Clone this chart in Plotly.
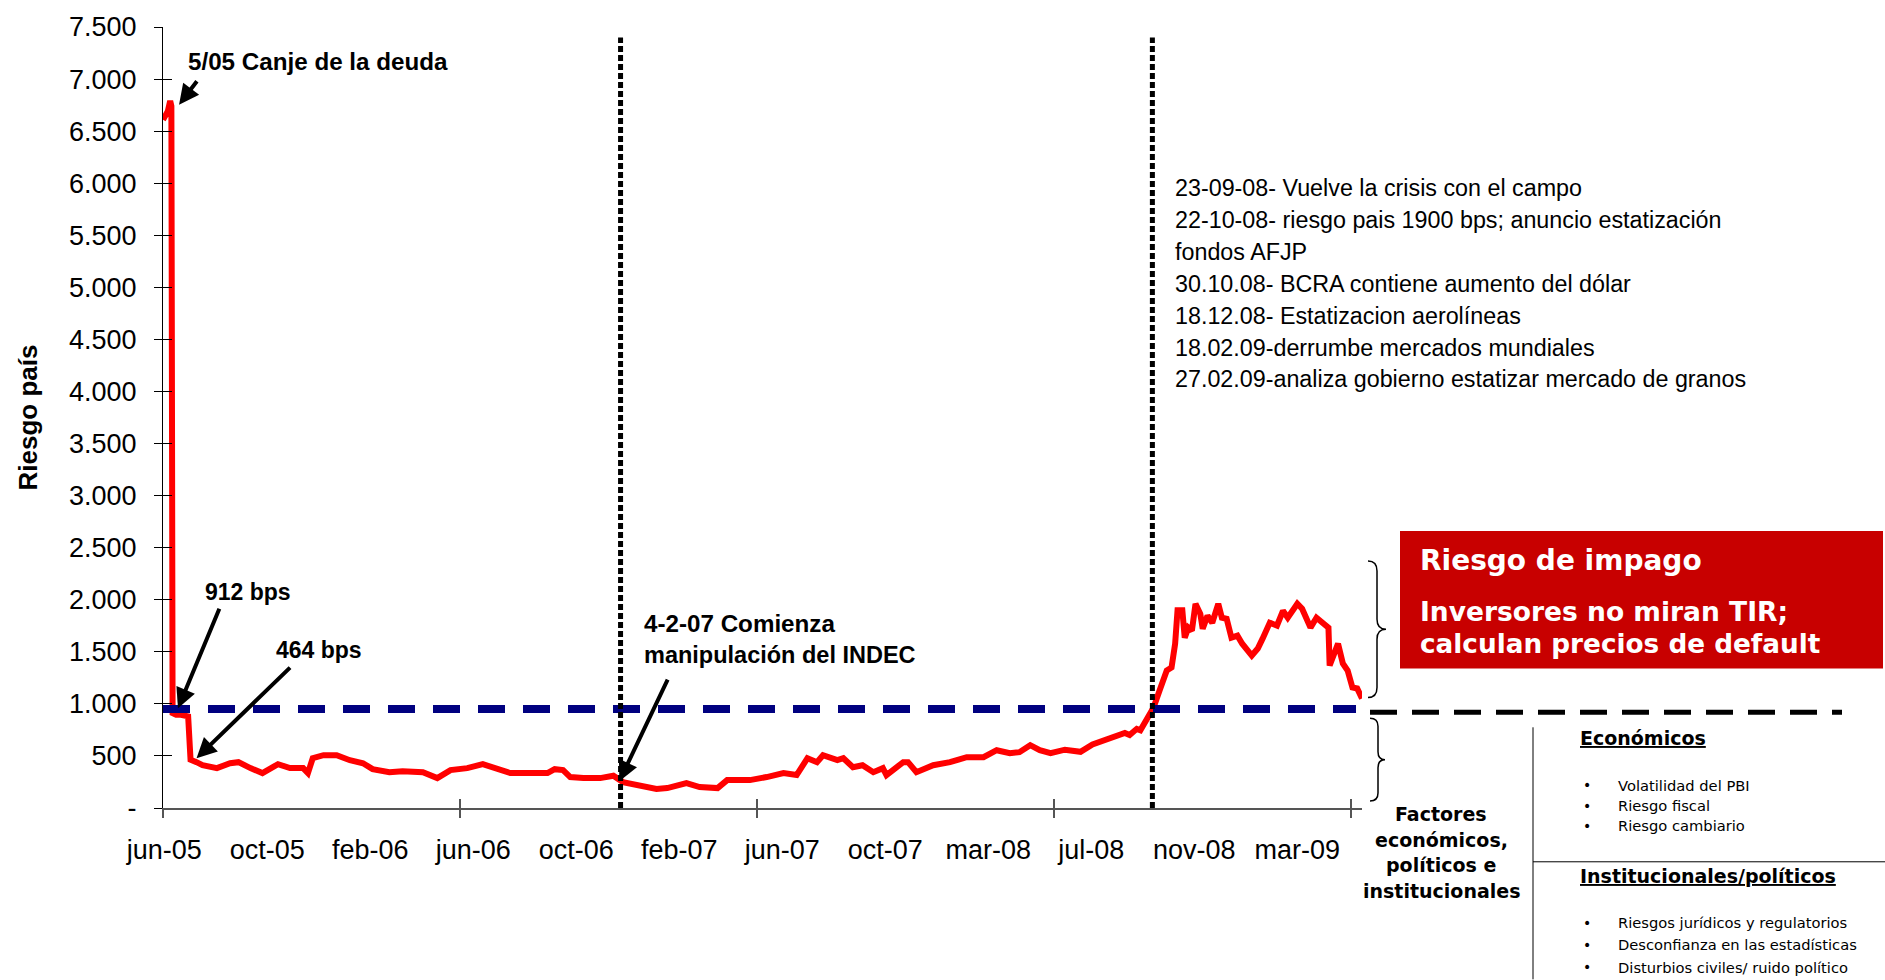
import plotly.graph_objects as go

# ---------------------------------------------------------------
# Riesgo país (puntos básicos), serie por día hábil desde jun-05
# ---------------------------------------------------------------
dia_canje = [0, 4, 6, 7, 8, 11, 15, 18, 21, 23, 25, 28]
rp_canje = [6610, 6690, 6790, 6740, 912, 895, 895, 880, 880, 464, 459, 440]

dia_2006 = [33, 45, 56, 63, 73, 83, 96, 106, 117, 121, 125, 134, 145, 156, 167,
            175, 189, 200, 217, 229, 240, 254, 267, 279, 290, 304]
rp_2006 = [411, 383, 430, 440, 383, 335, 421, 383, 383, 335, 478, 507, 507, 459, 430,
           373, 344, 354, 344, 287, 364, 383, 421, 383, 335, 335]

dia_indec = [321, 327, 334, 340, 346, 351, 365, 376, 384, 398, 412, 421, 437, 448, 463, 471]
rp_indec = [335, 373, 364, 297, 287, 287, 287, 310, 249, 220, 182, 191, 239, 201, 191, 268]

dia_2007 = [490, 504, 518, 529, 538, 546, 551, 563, 568, 576, 584, 593, 601, 604, 618,
            622, 629, 643, 657, 671, 685, 696, 707, 715, 724, 732, 741]
rp_2007 = [268, 297, 335, 316, 478, 440, 507, 459, 478, 392, 411, 344, 383, 316, 440,
           440, 344, 411, 440, 488, 488, 555, 526, 536, 603, 555, 526]

dia_2008 = [753, 766, 776, 786, 795, 803, 807, 813]
rp_2008 = [560, 540, 610, 650, 680, 720, 700, 760]

dia_crisis = [816, 822, 827, 832, 838, 842, 845, 847, 851, 853, 856, 859, 862, 866, 868,
              872, 876, 881, 884, 888, 892, 897, 901, 909, 914, 918, 924, 930, 935, 939,
              947, 951, 958, 963, 969, 973, 974, 979, 981, 985, 989, 993, 997, 1001]
rp_crisis = [746, 870, 966, 1129, 1320, 1349, 1578, 1900, 1900, 1636, 1732, 1703, 1961, 1865, 1722,
             1846, 1779, 1961, 1827, 1817, 1636, 1655, 1578, 1464, 1531, 1626, 1779, 1751, 1894, 1827,
             1961, 1913, 1732, 1827, 1779, 1732, 1368, 1540, 1578, 1387, 1320, 1157, 1148, 1052]

dia = dia_canje + dia_2006 + dia_indec + dia_2007 + dia_2008 + dia_crisis
riesgo_pais = rp_canje + rp_2006 + rp_indec + rp_2007 + rp_2008 + rp_crisis

# Eje de categorías: rótulos cada 86 días hábiles, marcas cada 248
etiquetas_x = ["jun-05", "oct-05", "feb-06", "jun-06", "oct-06", "feb-07",
               "jun-07", "oct-07", "mar-08", "jul-08", "nov-08", "mar-09"]
pos_etiquetas = [1, 87, 173, 259, 345, 431, 517, 603, 689, 775, 861, 947]
marcas_x = [0, 248, 496, 744, 992]
dia_final = 1001

valores_y = [0, 500, 1000, 1500, 2000, 2500, 3000, 3500, 4000, 4500, 5000, 5500, 6000, 6500, 7000, 7500]
textos_y = ["-", "500", "1.000", "1.500", "2.000", "2.500", "3.000", "3.500", "4.000",
            "4.500", "5.000", "5.500", "6.000", "6.500", "7.000", "7.500"]

umbral = 950                 # nivel de referencia (línea azul)
eventos = [382, 826]         # 4-2-07 INDEC / 23-09-08 crisis del campo
tope_eventos = 7400

notas_crisis = [
    "23-09-08- Vuelve la crisis con el campo",
    "22-10-08- riesgo pais 1900 bps; anuncio estatización",
    "fondos AFJP",
    "30.10.08- BCRA contiene aumento del dólar",
    "18.12.08- Estatizacion aerolíneas",
    "18.02.09-derrumbe mercados mundiales",
    "27.02.09-analiza gobierno estatizar mercado de granos",
]
factores_eco = ["Volatilidad del PBI", "Riesgo fiscal", "Riesgo cambiario"]
factores_inst = ["Riesgos jurídicos y regulatorios", "Desconfianza en las estadísticas",
                 "Disturbios civiles/ ruido político"]

# ---------------------------------------------------------------
# Geometría de la página (px) y conversión a coordenadas de papel
# ---------------------------------------------------------------
W, H = 1885, 980
L, R, T, B = 163, 1362, 24, 808


def px(x):
    return (x - L) / (R - L)


def py(y):
    return (B - y) / (B - T)


AR = "Liberation Sans, Arial, sans-serif"
DV = "DejaVu Sans, Verdana, sans-serif"


def nota(texto, x, y, size, family=AR, color="black", xanchor="left", yanchor="middle", **kw):
    return dict(text=texto, x=px(x), y=py(y), xref="paper", yref="paper",
                xanchor=xanchor, yanchor=yanchor, showarrow=False,
                font=dict(family=family, size=size, color=color), **kw)


def flecha(xd, yd, ax, ay):
    return dict(x=xd, y=yd, xref="x", yref="y", ax=ax, ay=ay, axref="pixel", ayref="pixel",
                text="", showarrow=True, arrowhead=2, arrowsize=1, arrowwidth=4,
                arrowcolor="black", standoff=0)


def linea_papel(x0, y0, x1, y1, color="black", width=1, dash=None):
    ln = dict(color=color, width=width)
    if dash:
        ln["dash"] = dash
    return dict(type="line", xref="paper", yref="paper", x0=px(x0), y0=py(y0),
                x1=px(x1), y1=py(y1), line=ln, layer="above")


def llave(xe, xs, xt, y0, y1, r=10):
    ym = (y0 + y1) / 2
    pts = [
        f"M{px(xe)},{py(y0)}",
        f"Q{px(xs)},{py(y0)} {px(xs)},{py(y0 + r)}",
        f"L{px(xs)},{py(ym - r)}",
        f"Q{px(xs)},{py(ym)} {px(xt)},{py(ym)}",
        f"Q{px(xs)},{py(ym)} {px(xs)},{py(ym + r)}",
        f"L{px(xs)},{py(y1 - r)}",
        f"Q{px(xs)},{py(y1)} {px(xe)},{py(y1)}",
    ]
    return dict(type="path", xref="paper", yref="paper", path=" ".join(pts),
                line=dict(color="black", width=1.5), layer="above")


fig = go.Figure()
fig.add_trace(go.Scatter(x=dia, y=riesgo_pais, mode="lines",
                         line=dict(color="#FF0000", width=6),
                         hoverinfo="skip", showlegend=False))
# ejes superpuestos que sólo dibujan marcas cruzadas
for xa, ya in (("x2", "y"), ("x3", "y"), ("x", "y2")):
    fig.add_trace(go.Scatter(x=[None], y=[None], xaxis=xa, yaxis=ya,
                             showlegend=False, hoverinfo="skip"))

shapes = [
    dict(type="line", xref="x", yref="y", x0=0, x1=996, y0=umbral, y1=umbral,
         line=dict(color="#000080", width=8, dash="27px,18px"), layer="above"),
]
for ev in eventos:
    shapes.append(dict(type="line", xref="x", yref="y", x0=ev, x1=ev, y0=0, y1=tope_eventos,
                       line=dict(color="black", width=5, dash="6px,3px"), layer="above"))
shapes += [
    linea_papel(1370, 712, 1842, 712, width=5, dash="27px,15px"),
    dict(type="rect", xref="paper", yref="paper", x0=px(1400), x1=px(1883),
         y0=py(530), y1=py(668), fillcolor="#C80000", line=dict(width=0), layer="above"),
    linea_papel(1533, 727, 1533, 980),
    linea_papel(1533, 862, 1885, 862),
    llave(1368, 1377, 1386, 560, 697),
    llave(1370, 1378, 1385, 718, 801, r=8),
]

annotations = [
    dict(text="<b>Riesgo país</b>", x=px(27), y=py(416), xref="paper", yref="paper",
         textangle=-90, showarrow=False, xanchor="center", yanchor="middle",
         font=dict(family=AR, size=26, color="black")),
    nota("<b>5/05 Canje de la deuda</b>", 186, 59, 24.2),
    nota("<b>912 bps</b>", 203, 591, 23),
    nota("<b>464 bps</b>", 274, 649, 23),
    nota("<b>4-2-07 Comienza</b>", 642, 623, 24.2),
    nota("<b>manipulación del INDEC</b>", 642, 654, 23.5),
    flecha(13.4, 6754, 19, -25),
    flecha(12.5, 957, 42, -101),
    flecha(28, 478, 95, -92),
    flecha(381, 258, 49, -103),
]
for i, txt in enumerate(notas_crisis):
    annotations.append(nota(txt, 1173, 185.5 + 32.05 * i, 23.3))

annotations += [
    nota("<b>Riesgo de impago</b>", 1418, 560, 28, family=DV, color="white"),
    nota("<b>Inversores no miran TIR;</b>", 1418, 611, 26.5, family=DV, color="white"),
    nota("<b>calculan precios de default</b>", 1418, 643, 26.3, family=DV, color="white"),
]
for i, txt in enumerate(["Factores", "económicos,", "políticos e", "institucionales"]):
    annotations.append(nota(f"<b>{txt}</b>", 1441, 814 + 25.7 * i, 19, family=DV, xanchor="center"))

annotations.append(nota("<b><u>Económicos</u></b>", 1578, 738, 19, family=DV))
annotations.append(nota("<b><u>Institucionales/políticos</u></b>", 1578, 876, 19, family=DV))
for i, txt in enumerate(factores_eco):
    yy = 785 + 20.5 * i
    annotations.append(nota("•", 1587, yy, 14, family=DV, xanchor="center"))
    annotations.append(nota(txt, 1616, yy, 14.7, family=DV))
for i, txt in enumerate(factores_inst):
    yy = 923 + 22.5 * i
    annotations.append(nota("•", 1587, yy, 14, family=DV, xanchor="center"))
    annotations.append(nota(txt, 1616, yy, 14.7, family=DV))

eje_x_marcas = dict(overlaying="x", range=[0, dia_final], tickmode="array", tickvals=marcas_x,
                    ticklen=9, tickcolor="#555555", tickwidth=1.5, showticklabels=False,
                    showgrid=False, zeroline=False, showline=False, anchor="y", side="bottom")

fig.update_layout(
    width=W, height=H, autosize=False,
    margin=dict(l=L, r=W - R, t=T, b=H - B, pad=0),
    paper_bgcolor="white", plot_bgcolor="white",
    showlegend=False,
    xaxis=dict(range=[0, dia_final], tickmode="array", tickvals=pos_etiquetas, ticktext=etiquetas_x,
               ticks="", showline=True, linecolor="#555555", linewidth=1.5, showgrid=False,
               zeroline=False, tickfont=dict(family=AR, size=27, color="black"),
               ticklabelstandoff=17),
    xaxis2=dict(eje_x_marcas, ticks="outside"),
    xaxis3=dict(eje_x_marcas, ticks="inside"),
    yaxis=dict(range=[0, 7500], tickmode="array", tickvals=valores_y, ticktext=textos_y,
               ticks="outside", ticklen=8, tickcolor="black", tickwidth=1.2,
               showline=True, linecolor="black", linewidth=1.2, showgrid=False, zeroline=False,
               tickfont=dict(family=AR, size=27, color="black"), ticklabelstandoff=12),
    yaxis2=dict(overlaying="y", range=[0, 7500], tickmode="array", tickvals=valores_y,
                ticks="inside", ticklen=9, tickcolor="black", tickwidth=1.2, showticklabels=False,
                showgrid=False, zeroline=False, showline=False, anchor="x", side="left"),
    shapes=shapes,
    annotations=annotations,
)

fig.write_html("out.html")
